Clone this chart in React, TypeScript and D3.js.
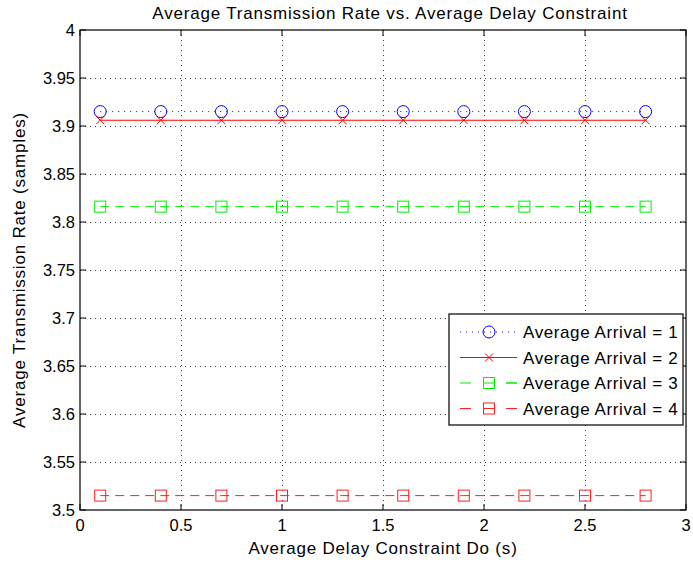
import React from "react";
import * as d3 from "d3";

// Delay constraint values (s) sampled for every curve
const delays = [0.1, 0.4, 0.7, 1.0, 1.3, 1.6, 1.9, 2.2, 2.5, 2.8];

// Average transmission rate (samples) per arrival setting
const arrival1 = [3.915, 3.915, 3.915, 3.915, 3.915, 3.915, 3.915, 3.915, 3.915, 3.915];
const arrival2 = [3.906, 3.906, 3.906, 3.906, 3.906, 3.906, 3.906, 3.906, 3.906, 3.906];
const arrival3 = [3.816, 3.816, 3.816, 3.816, 3.816, 3.816, 3.816, 3.816, 3.816, 3.816];
const arrival4 = [3.515, 3.515, 3.515, 3.515, 3.515, 3.515, 3.515, 3.515, 3.515, 3.515];

const seriesNames = [
  "Average Arrival = 1",
  "Average Arrival = 2",
  "Average Arrival = 3",
  "Average Arrival = 4",
];

const xTicks = [0, 0.5, 1, 1.5, 2, 2.5, 3];
const xTickLabels = ["0", "0.5", "1", "1.5", "2", "2.5", "3"];
const yTicks = [3.5, 3.55, 3.6, 3.65, 3.7, 3.75, 3.8, 3.85, 3.9, 3.95, 4];
const yTickLabels = ["3.5", "3.55", "3.6", "3.65", "3.7", "3.75", "3.8", "3.85", "3.9", "3.95", "4"];

const titleText = "Average Transmission Rate vs. Average Delay Constraint";
const xLabelText = "Average Delay Constraint Do (s)";
const yLabelText = "Average Transmission Rate (samples)";

type Marker = "circle" | "x" | "square";
type Style = { color: string; dash: string | null; marker: Marker };

const styles: Style[] = [
  { color: "#0000ff", dash: "1,5", marker: "circle" },
  { color: "#ff0000", dash: null, marker: "x" },
  { color: "#00ee00", dash: "9,6", marker: "square" },
  { color: "#ff2020", dash: "9,6", marker: "square" },
];

const W = 693;
const H = 565;
const M = { left: 80, right: 686, top: 30, bottom: 510 };
const FONT = "'Liberation Sans', Arial, Helvetica, sans-serif";

function MarkerShape({ kind, x, y, color }: { kind: Marker; x: number; y: number; color: string }) {
  if (kind === "circle") {
    return <circle cx={x} cy={y} r={6} fill="none" stroke={color} strokeWidth={1} />;
  }
  if (kind === "x") {
    const s = 4;
    return (
      <path
        d={`M${x - s},${y - s}L${x + s},${y + s}M${x - s},${y + s}L${x + s},${y - s}`}
        stroke={color}
        strokeWidth={1}
        fill="none"
      />
    );
  }
  const s = 5.5;
  return <rect x={x - s} y={y - s} width={2 * s} height={2 * s} fill="none" stroke={color} strokeWidth={1} />;
}

export default function App() {
  const x = d3.scaleLinear().domain([0, 3]).range([M.left, M.right]);
  const y = d3.scaleLinear().domain([3.5, 4]).range([M.bottom, M.top]);
  const allSeries = [arrival1, arrival2, arrival3, arrival4];
  const line = d3
    .line<[number, number]>()
    .x((d) => x(d[0]))
    .y((d) => y(d[1]));

  const tickLen = 6;
  const legend = { x0: 449, x1: 683, y0: 314, y1: 425, rowY: [332, 357.5, 383, 408.5] };

  return (
    <svg
      width={W}
      height={H}
      style={{ position: "absolute", left: 0, top: 0, background: "#fff" }}
      fontFamily={FONT}
    >
      <rect x={0} y={0} width={W} height={H} fill="#fff" />

      {/* dotted grid */}
      <g stroke="#000" strokeWidth={1} strokeDasharray="1,4" opacity={0.75}>
        {xTicks.slice(1, -1).map((t) => (
          <line key={`gx${t}`} x1={x(t) + 0.5} x2={x(t) + 0.5} y1={M.top} y2={M.bottom} />
        ))}
        {yTicks.slice(1, -1).map((t) => (
          <line key={`gy${t}`} x1={M.left} x2={M.right} y1={Math.round(y(t)) + 0.5} y2={Math.round(y(t)) + 0.5} />
        ))}
      </g>

      {/* data lines and markers */}
      {allSeries.map((vals, i) => {
        const st = styles[i];
        const pts = delays.map((d, j) => [d, vals[j]] as [number, number]);
        return (
          <g key={`s${i}`}>
            <path
              d={line(pts) || ""}
              fill="none"
              stroke={st.color}
              strokeWidth={1}
              strokeDasharray={st.dash || undefined}
            />
            {pts.map((p, j) => (
              <MarkerShape key={j} kind={st.marker} x={x(p[0])} y={y(p[1])} color={st.color} />
            ))}
          </g>
        );
      })}

      {/* axes box with inward ticks */}
      <rect
        x={M.left}
        y={M.top}
        width={M.right - M.left}
        height={M.bottom - M.top}
        fill="none"
        stroke="#000"
        strokeWidth={1.2}
      />
      <g stroke="#000" strokeWidth={1}>
        {xTicks.map((t) => (
          <g key={`tx${t}`}>
            <line x1={x(t)} x2={x(t)} y1={M.bottom} y2={M.bottom - tickLen} />
            <line x1={x(t)} x2={x(t)} y1={M.top} y2={M.top + tickLen} />
          </g>
        ))}
        {yTicks.map((t) => (
          <g key={`ty${t}`}>
            <line x1={M.left} x2={M.left + tickLen} y1={y(t)} y2={y(t)} />
            <line x1={M.right} x2={M.right - tickLen} y1={y(t)} y2={y(t)} />
          </g>
        ))}
      </g>

      {/* tick labels */}
      <g fontSize={16.5} fill="#000">
        {xTicks.map((t, i) => (
          <text key={`lx${t}`} x={x(t)} y={531} textAnchor="middle">
            {xTickLabels[i]}
          </text>
        ))}
        {yTicks.map((t, i) => (
          <text key={`ly${t}`} x={75} y={y(t) + 6} textAnchor="end">
            {yTickLabels[i]}
          </text>
        ))}
      </g>

      {/* title and axis labels */}
      <text x={390} y={19} textAnchor="middle" fontSize={17} letterSpacing={0.8}>
        {titleText}
      </text>
      <text x={(M.left + M.right) / 2} y={554} textAnchor="middle" fontSize={17} letterSpacing={0.8}>
        {xLabelText}
      </text>
      <text
        transform={`translate(25,${(M.top + M.bottom) / 2}) rotate(-90)`}
        textAnchor="middle"
        fontSize={17}
        letterSpacing={0.8}
      >
        {yLabelText}
      </text>

      {/* legend */}
      <rect
        x={legend.x0}
        y={legend.y0}
        width={legend.x1 - legend.x0}
        height={legend.y1 - legend.y0}
        fill="#fff"
        stroke="#000"
        strokeWidth={1.2}
      />
      {seriesNames.map((name, i) => {
        const st = styles[i];
        const ry = legend.rowY[i];
        const dashedSquare = st.dash && st.marker !== "circle";
        return (
          <g key={`lg${i}`}>
            <line
              x1={460}
              x2={517}
              y1={ry}
              y2={ry}
              stroke={st.color}
              strokeWidth={1}
              strokeDasharray={st.dash ? (st.marker === "circle" ? "1,5" : "11,35") : undefined}
            />
            {dashedSquare && (
              <g stroke={st.color} strokeWidth={1}>
                <line x1={506} x2={517} y1={ry} y2={ry} />
                <line x1={483.5} x2={494.5} y1={ry} y2={ry} />
              </g>
            )}
            <MarkerShape kind={st.marker} x={489} y={ry} color={st.color} />
            <text x={523} y={ry + 6} fontSize={17} letterSpacing={0.6}>
              {name}
            </text>
          </g>
        );
      })}
    </svg>
  );
}
